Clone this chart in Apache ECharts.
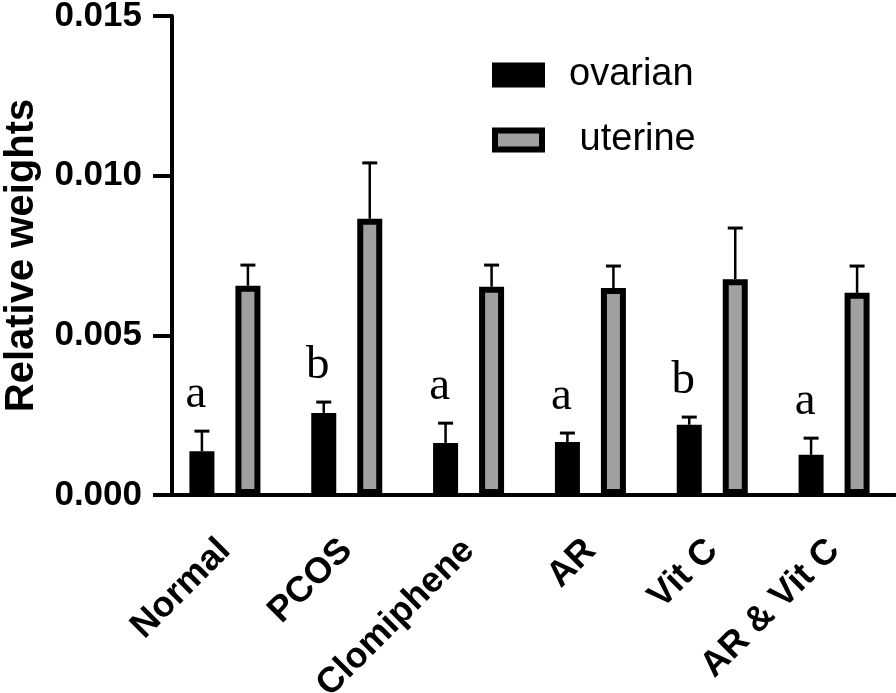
<!DOCTYPE html>
<html>
<head>
<meta charset="utf-8">
<script src="https://cdn.jsdelivr.net/npm/echarts@6/dist/echarts.min.js"></script>
<style>html,body{margin:0;padding:0;background:#fff;}#c{width:896px;height:693px;}</style>
</head>
<body>
<div id="c"></div>
<script>
const categories = ['Normal', 'PCOS', 'Clomiphene', 'AR', 'Vit C', 'AR & Vit C'];
const ovarianMean = [0.00137, 0.00257, 0.00163, 0.00166, 0.00220, 0.00126];
const ovarianErr  = [0.00063, 0.00034, 0.00062, 0.00028, 0.00024, 0.00052];
const uterineMean = [0.00655, 0.00865, 0.00652, 0.00648, 0.00676, 0.00633];
const uterineErr  = [0.00065, 0.00175, 0.00068, 0.00069, 0.00160, 0.00084];
const sigLetters  = ['a', 'b', 'a', 'a', 'b', 'a'];
const yTicks = { min: 0, max: 0.015, interval: 0.005 };

const SANS = '"Liberation Sans", Arial, sans-serif';
const SERIF = '"Liberation Serif", "Times New Roman", serif';

function errSeries(name, mean, err, sideFrac, letters) {
  return {
    type: 'custom',
    name: name + ' err',
    z: 1,
    data: categories.map((c, i) => [i, mean[i], mean[i] + err[i]]),
    encode: { x: 0, y: [1, 2] },
    silent: true,
    renderItem(params, api) {
      const i = api.value(0);
      const base = api.coord([i, api.value(1)]);
      const top = api.coord([i, api.value(2)]);
      const band = api.size([1, 0])[0];
      const x = base[0] + band * sideFrac;
      const children = [
        { type: 'line', shape: { x1: x, y1: base[1], x2: x, y2: top[1] }, style: { stroke: '#000', lineWidth: 2.5 } },
        { type: 'line', shape: { x1: x - 7.5, y1: top[1], x2: x + 7.5, y2: top[1] }, style: { stroke: '#000', lineWidth: 3 } }
      ];
      if (letters) {
        children.push({
          type: 'text', x: x - 6, y: top[1] - 13,
          style: { text: letters[i], font: '47px ' + SERIF, textAlign: 'center', textVerticalAlign: 'bottom', fill: '#000' }
        });
      }
      return { type: 'group', children };
    }
  };
}

const chart = echarts.init(document.getElementById('c'), null, { renderer: 'canvas' });
chart.setOption({
  backgroundColor: '#fff',
  animation: false,
  grid: { left: 164, right: 1, top: 16, bottom: 198, containLabel: false, outerBoundsMode: 'none' },
  legend: {
    orient: 'vertical',
    left: 492, top: 56,
    padding: 0,
    itemWidth: 47, itemHeight: 19,
    itemGap: 27,
    icon: 'rect',
    itemStyle: { borderWidth: 6, borderColor: '#000' },
    data: ['ovarian', 'uterine'],
    formatter: n => n === 'uterine' ? ' uterine' : n,
    textStyle: { fontFamily: SANS, fontSize: 38, color: '#000', lineHeight: 25, padding: [0, 0, 0, 22] }
  },
  xAxis: {
    type: 'category',
    data: categories,
    boundaryGap: true,
    axisLine: { lineStyle: { color: '#000', width: 4 } },
    axisTick: { alignWithLabel: true, length: 20, lineStyle: { color: '#000', width: 4 } },
    axisLabel: { rotate: 45, margin: 50, interval: 0, color: '#000', fontFamily: SANS, fontWeight: 'bold', fontSize: 36 }
  },
  yAxis: {
    type: 'value',
    min: yTicks.min, max: yTicks.max, interval: yTicks.interval,
    offset: -8,
    name: 'Relative weights',
    nameLocation: 'middle',
    nameGap: 130,
    nameTextStyle: { fontFamily: SANS, fontWeight: 'bold', fontSize: 40, color: '#000' },
    axisLine: { show: true, lineStyle: { color: '#000', width: 4 } },
    axisTick: { show: true, length: 19, lineStyle: { color: '#000', width: 4 } },
    splitLine: { show: false },
    axisLabel: { margin: 30, color: '#000', fontFamily: SANS, fontWeight: 'bold', fontSize: 35, formatter: v => v.toFixed(3) }
  },
  series: [
    {
      type: 'bar', name: 'ovarian', z: 2,
      data: ovarianMean,
      barWidth: 25, barGap: '84%',
      itemStyle: { color: '#000', borderColor: '#000', borderWidth: 6 }
    },
    {
      type: 'bar', name: 'uterine', z: 2,
      data: uterineMean,
      barWidth: 25,
      itemStyle: { color: '#a0a0a0', borderColor: '#000', borderWidth: 6 }
    },
    errSeries('ovarian', ovarianMean, ovarianErr, -23 / 121.8, sigLetters),
    errSeries('uterine', uterineMean, uterineErr, 23 / 121.8, null)
  ]
});
</script>
</body>
</html>
